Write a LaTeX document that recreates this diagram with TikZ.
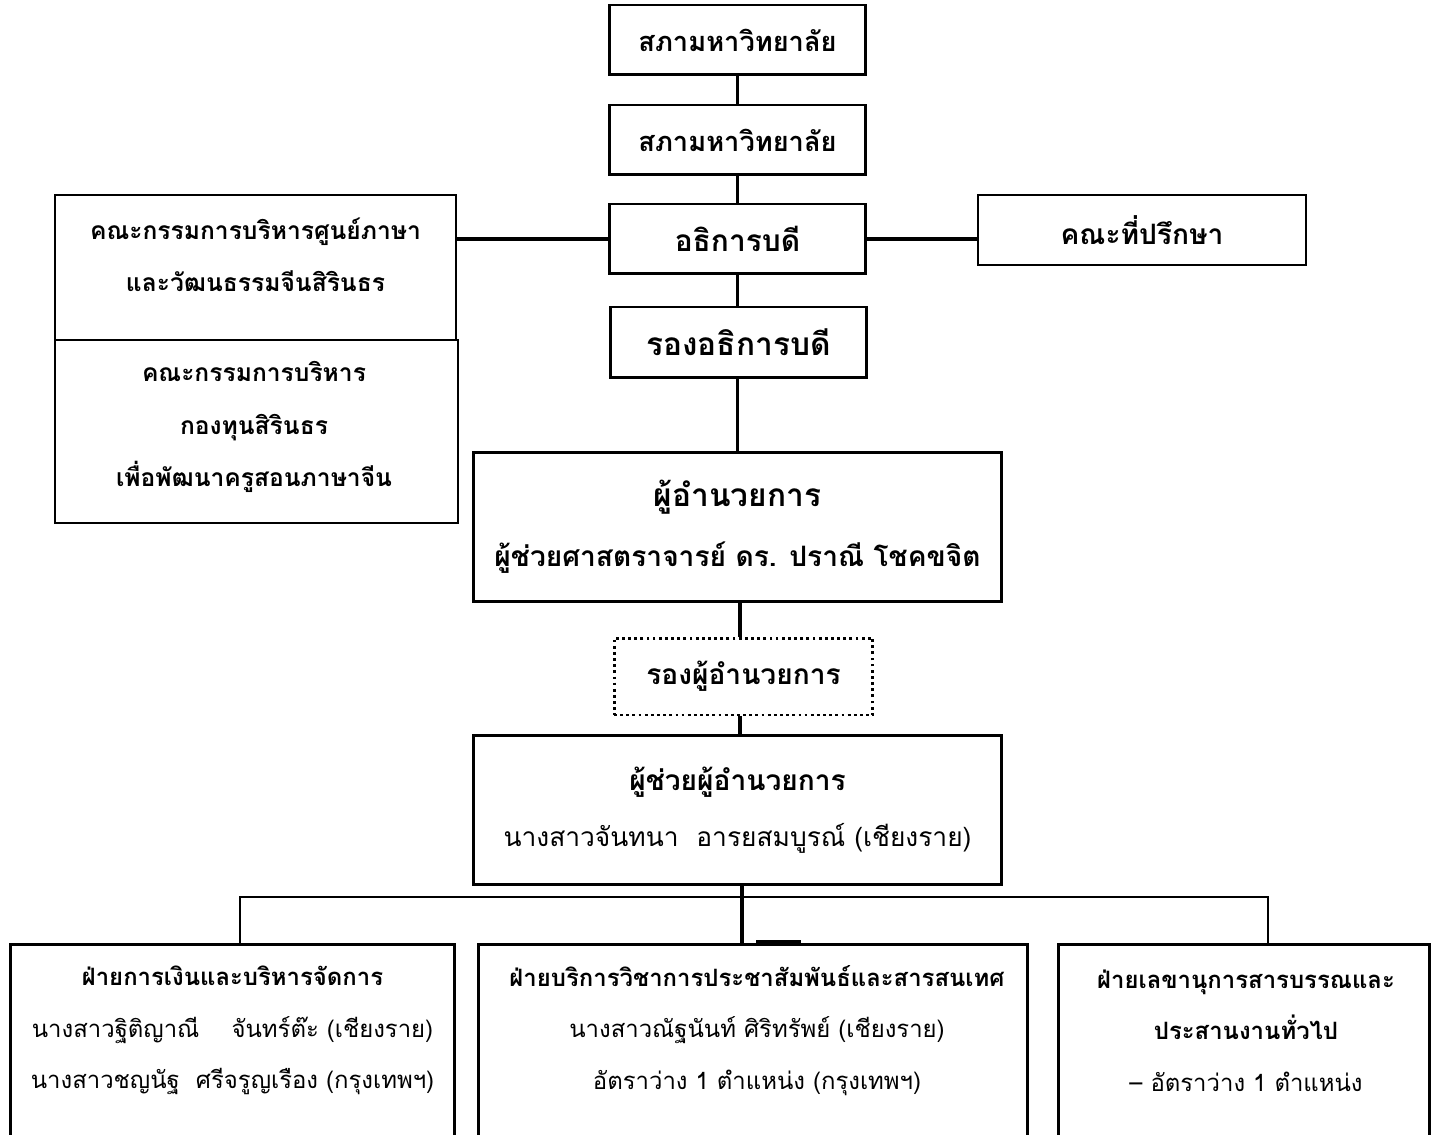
\documentclass[tikz,border=0pt]{standalone}
\usepackage{fontspec}
\newfontfamily\thaifont[Script=Thai]{Loma}
\usetikzlibrary{positioning}

\newcommand{\topsize}{\thaifont\fontsize{15.5}{29.5}\selectfont}
\newcommand{\bigsize}{\thaifont\fontsize{18}{34}\selectfont}
\newcommand{\midsize}{\thaifont\fontsize{16}{32}\selectfont}
\newcommand{\comsize}{\thaifont\fontsize{14}{29.7}\selectfont}
\newcommand{\divsize}{\thaifont\fontsize{13.6}{29.2}\selectfont}

\tikzset{
  orgbox/.style={draw, line width=1.7pt, inner sep=0pt, align=center, font=\topsize\bfseries},
  thinbox/.style={draw, line width=1.1pt, inner sep=0pt},
  dotbox/.style={orgbox, dash pattern=on 1.6pt off 1.9pt},
  boxtext/.style={inner sep=0pt, align=center, font=\divsize},
  link/.style={line width=1.9pt},
  thinlink/.style={line width=1.1pt}
}

\begin{document}
\begin{tikzpicture}[x=0.02cm, y=-0.02cm]
\useasboundingbox (0,0) rectangle (1441,1135);
% top of the chart
\node[orgbox, minimum width=5.14cm, minimum height=1.4cm] (council) at (737.5,40) {สภามหาวิทยาลัย};
\node[orgbox, minimum width=5.14cm, minimum height=1.4cm] (council2) at (737.5,140) {สภามหาวิทยาลัย};
\node[orgbox, minimum width=5.14cm, minimum height=1.4cm, font=\thaifont\fontsize{17}{30}\selectfont\bfseries] (rector) at (737.5,239) {อธิการบดี};
\node[orgbox, minimum width=5.14cm, minimum height=1.42cm, font=\bigsize\bfseries] (vrector) at (738.5,342.5) {รองอธิการบดี};
% committees on the left, advisers on the right
\node[thinbox, minimum width=8.02cm, minimum height=2.9cm] (langcom) at (255.5,267.5) {};
\node[thinbox, minimum width=8.06cm, minimum height=3.66cm] (fundcom) at (256.5,431.5) {};
\node[boxtext, font=\comsize\bfseries] (langtext) at (255.5,254.5) {คณะกรรมการบริหารศูนย์ภาษา\\และวัฒนธรรมจีนสิรินธร};
\node[boxtext, font=\comsize\bfseries] (fundtext) at (254,427) {คณะกรรมการบริหาร\\กองทุนสิรินธร\\เพื่อพัฒนาครูสอนภาษาจีน};
\node[orgbox, line width=1.5pt, minimum width=6.56cm, minimum height=1.4cm, font=\thaifont\fontsize{16}{30}\selectfont\bfseries] (advisers) at (1142,230) {คณะที่ปรึกษา};
% directors
\node[orgbox, minimum width=10.58cm, minimum height=3cm, font=\bigsize\bfseries] (director) at (737.5,527) {ผู้อำนวยการ\\\midsize\bfseries ผู้ช่วยศาสตราจารย์ ดร. ปราณี โชคขจิต};
\node[dotbox, minimum width=5.18cm, minimum height=1.54cm, font=\midsize\bfseries] (vdirector) at (743.5,676.5) {รองผู้อำนวยการ};
\node[orgbox, minimum width=10.58cm, minimum height=3cm, font=\midsize\bfseries] (adirector) at (737.5,810) {ผู้ช่วยผู้อำนวยการ\\\thaifont\fontsize{15}{32}\selectfont\mdseries นางสาวจันทนา\ \ อารยสมบูรณ์ (เชียงราย)};
% divisions
\node[thinbox, line width=1.7pt, minimum width=8.9cm, minimum height=4.02cm] (finance) at (232.5,1044.5) {};
\node[thinbox, line width=1.7pt, minimum width=11cm, minimum height=4.02cm] (service) at (753,1044.5) {};
\node[thinbox, line width=1.7pt, minimum width=7.44cm, minimum height=4.02cm] (office) at (1244,1044.5) {};
\node[boxtext] (financetext) at (232.5,1030.5) {\bfseries ฝ่ายการเงินและบริหารจัดการ\\นางสาวฐิติญาณี\ \ \ \ จันทร์ต๊ะ (เชียงราย)\\นางสาวชญนัฐ\ \ ศรีจรูญเรือง (กรุงเทพฯ)};
\node[boxtext] (servicetext) at (757,1030.5) {\bfseries ฝ่ายบริการวิชาการประชาสัมพันธ์และสารสนเทศ\\นางสาวณัฐนันท์ ศิริทรัพย์ (เชียงราย)\\อัตราว่าง 1 ตำแหน่ง (กรุงเทพฯ)};
\node[boxtext] (officetext) at (1246,1030.5) {\bfseries ฝ่ายเลขานุการสารบรรณและ\\\bfseries ประสานงานทั่วไป\\– อัตราว่าง 1 ตำแหน่ง};
\coordinate (bar) at (742,897);
% connectors
\draw[link] (council) -- (council2);
\draw[link] (council2) -- (rector);
\draw[link] (rector.south) -- (rector.south |- vrector.north);
\draw[link] (vrector.south -| rector.south) -- (director.north);
\draw[link] (rector.west) -- (rector.west -| langcom.east);
\draw[link] (rector.east) -- (rector.east -| advisers.west);
\draw[link] ([xshift=0.05cm]director.south) -- ([xshift=0.05cm]director.south |- vdirector.north);
\draw[link] ([xshift=0.05cm]director.south |- vdirector.south) -- ([xshift=0.05cm]adirector.north);
\draw[link] ([xshift=0.09cm]adirector.south) -- ([xshift=0.09cm]adirector.south |- service.north);
\draw[thinlink] ([xshift=0.15cm]finance.north) -- ([xshift=0.15cm]finance.north |- bar) -- ([xshift=0.48cm]office.north |- bar) -- ([xshift=0.48cm]office.north);
\draw[line width=3pt] ([xshift=0.06cm]service.north) -- ([xshift=0.96cm]service.north);
\end{tikzpicture}
\end{document}
